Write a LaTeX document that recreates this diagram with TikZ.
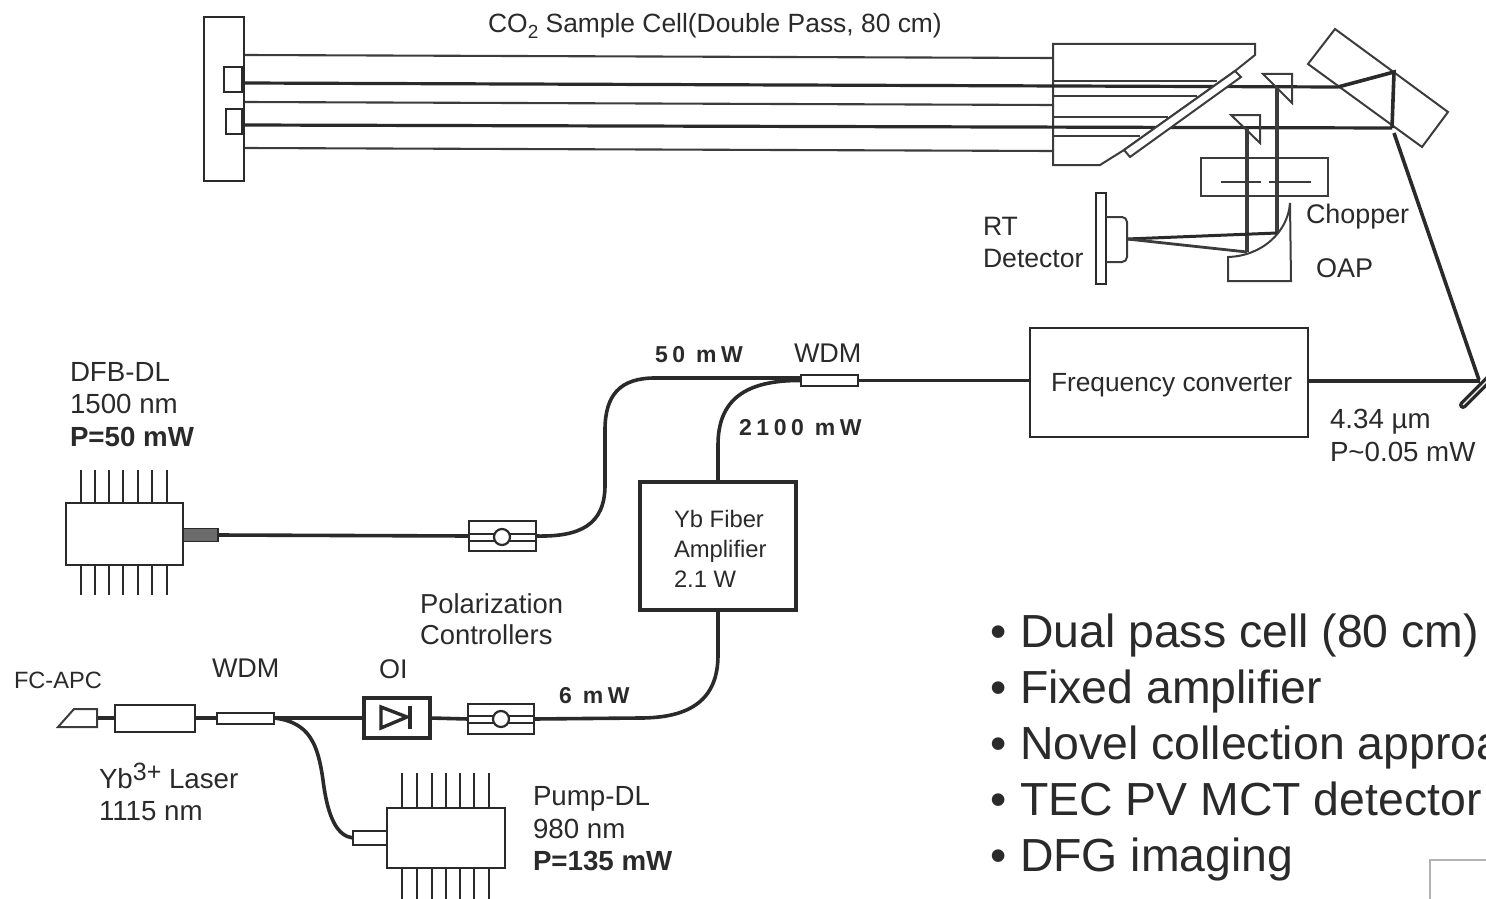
\documentclass[tikz,border=0pt]{standalone}
\usepackage{fontspec}
\setmainfont{Liberation Sans}
\newfontfamily\sbold[LetterSpace=20]{Liberation Sans}
\definecolor{ink}{HTML}{2A2A2A}
\definecolor{inkb}{HTML}{3C3C3C}
\newcommand{\fs}[2]{\fontsize{#1}{#2}\selectfont}
\tikzset{
  every node/.style={inner sep=0pt,outer sep=0pt,text=ink},
  box/.style={draw=ink,line width=2pt,fill=white,rectangle},
  thickbox/.style={draw=ink,line width=3.4pt,fill=white,rectangle},
  optic/.style={draw=inkb,line width=2pt,line join=miter},
  beam/.style={draw=inkb,line width=2.1pt},
  hbeam/.style={draw=ink,line width=3.6pt},
  fibre/.style={draw=ink,line width=3.6pt},
  pin/.style={draw=ink,line width=1.9pt},
  lab/.style={anchor=west,align=left,font=\fs{27.7}{32.5}},
  spaced/.style={anchor=west,font=\fs{23}{26}\sbold\bfseries},
  bullet/.style={anchor=base west,font=\fs{46.4}{50}}
}
\begin{document}
\begin{tikzpicture}[x=1pt,y=-1pt]
\useasboundingbox (0,0) rectangle (1486,899);

% --- sample cell ---
\node[box,minimum width=40pt,minimum height=164pt] (m1) at (224,99) {};
\node[box,minimum width=18pt,minimum height=25pt] (s1) at (233,79.5) {};
\node[box,minimum width=16pt,minimum height=25pt] (s2) at (234,121.5) {};
\coordinate (a1) at (245,55);  \coordinate (b1) at (1053,58);
\coordinate (a2) at (243,83);  \coordinate (b2) at (1338,87);
\coordinate (a3) at (245,102); \coordinate (b3) at (1053,105);
\coordinate (a4) at (243,125); \coordinate (b4) at (1392,128);
\coordinate (a5) at (245,148); \coordinate (b5) at (1053,151);
\draw[beam] (a1)--(b1) (a3)--(b3) (a5)--(b5);
\draw[optic,fill=white] (1053,44)--(1255,44)--(1255,55)--(1235,71)--(1124,150)--(1100,165)--(1053,165)--cycle;
\draw[beam] (1053,81)--(1217,81) (1053,96)--(1197,96) (1053,117)--(1168,117) (1053,136)--(1140,136);
\draw[hbeam,line width=3.2pt] (a2)--(b2) (a4)--(b4);
\draw[optic,fill=white] (1235,71)--(1241,77)--(1130,157)--(1124,150)--cycle;

% --- folding mirrors ---
\draw[optic] (1335,29)--(1448,112)--(1422,147)--(1308,64)--cycle;
\coordinate (f1) at (1394,72);
\draw[hbeam] (b2)--(f1)--(b4);
\coordinate (f2) at (1394,133);
\coordinate (f3) at (1479,380);
\draw[hbeam] (f2)--(f3);

% --- triangles, chopper ---
\draw[beam,line width=3.8pt] (1277,87)--(1277,233) (1247,128)--(1247,252);
\draw[optic] (1263,74)--(1292,74)--(1292,103)--cycle;
\draw[optic] (1231,115)--(1260,115)--(1260,143)--cycle;
\draw[optic] (1201,158) rectangle (1328,196);
\draw[beam] (1221,182)--(1261,182) (1269,182)--(1311,182);

% --- OAP, detector ---
\draw[optic] (1290,203)--(1291,281)--(1228,281)--(1228,257) .. controls (1262,256) and (1288,232) .. (1290,203);
\node[box,minimum width=10pt,minimum height=91pt] (det) at (1101,238.5) {};
\draw[optic,rounded corners=5pt] (det.east |- 0,217)--(1127,217)--(1127,262)--(det.east |- 0,262);
\coordinate (dc) at (1127,239);
\draw[hbeam,line width=3pt] (dc)--(1277,233);
\draw[beam,line width=2.8pt] (dc)--(1247,252);

% --- main fibre line ---
\node[box,minimum width=117pt,minimum height=62pt] (dfb) at (124.5,534) {};
\foreach \x in {81,95,109,123,138,152,167}{\draw[pin] (\x,470)--(\x,503);\draw[pin] (\x,565)--(\x,595);}
\node[draw=ink,line width=1.8pt,fill=gray!85!black,minimum width=35pt,minimum height=13pt,anchor=west] (dfbc) at (183,535) {};
\node[box,minimum width=67pt,minimum height=30pt] (pc1) at (502.5,536) {};
\node[box,minimum width=57pt,minimum height=11pt] (wdm1) at (829.5,380.5) {};
\node[box,minimum width=278pt,minimum height=109pt] (fc) at (1169,382.5) {};
\node[thickbox,minimum width=156pt,minimum height=128pt] (amp) at (718,546) {};
\node[box,minimum width=66pt,minimum height=30pt] (pc2) at (501,719) {};
\node[thickbox,minimum width=66pt,minimum height=40pt] (oi) at (397,718) {};
\node[box,minimum width=57pt,minimum height=11pt] (wdm2) at (245.5,718) {};
\node[box,minimum width=80pt,minimum height=27pt] (las) at (155,718) {};
\node[box,minimum width=118pt,minimum height=60pt] (pump) at (446,838) {};
\foreach \x in {402,417,432,446,460,474,489}{\draw[pin] (\x,773)--(\x,808);\draw[pin] (\x,868)--(\x,899);}
\node[box,minimum width=34pt,minimum height=14pt,anchor=east] (pumpc) at (pump.west |- 0,838) {};
\coordinate (fcr) at (97,718);

% fibres
\draw[fibre] (dfbc.east)--(pc1.west);
\draw[fibre] (pc1.east) .. controls (580,537) and (605,525) .. (605,485) -- (605,430) .. controls (605,395) and (620,378) .. (655,378) -- (wdm1.west |- 0,378);
\draw[fibre] (amp.north) -- (718,445) .. controls (718,400) and (745,380) .. (wdm1.west);
\draw[fibre] (wdm1.east)--(fc.west |- wdm1.east);
\draw[fibre] (fc.east |- 0,381)--(1480,381);
\draw[fibre] (amp.south) -- (718,655) .. controls (718,700) and (690,718) .. (640,718) -- (pc2.east);
\draw[fibre] (pc2.west)--(oi.east);
\draw[fibre] (oi.west)--(wdm2.east);
\draw[fibre] (wdm2.west)--(las.east);
\draw[fibre] (las.west)--(fcr);
\draw[fibre] (wdm2.east) .. controls (310,722) and (318,745) .. (323,780) .. controls (328,820) and (338,836) .. (pumpc.west);
\draw[optic,fill=white] (58,727)--(74,709)--(97,709)--(97,727)--cycle;

% polarization controllers
\foreach \n/\cx/\cy in {pc1/502/537,pc2/501/719}{
  \draw[line width=2pt,draw=ink] (\cx-33,\cy-3.5)--(\cx+33,\cy-3.5) (\cx-33,\cy+3.5)--(\cx+33,\cy+3.5);
  \node[draw=ink,line width=2.2pt,fill=white,circle,minimum size=16pt] (\n c) at (\cx,\cy) {};
}
% isolator glyph
\draw[draw=ink,line width=3.4pt,fill=white,line join=miter] (381,707)--(407,717)--(381,728)--cycle;
\draw[draw=ink,line width=3.4pt] (410,706)--(410,729);

% steering mirror
\draw[draw=ink,line width=8pt,line cap=round] (1463,405)--(1490,378);
\draw[draw=white,line width=1.2pt] (1463,405)--(1490,378);

% --- labels ---
\node[anchor=center,font=\fs{26.4}{30}] (tcell) at (715,26) {CO\raisebox{-6pt}{\fs{19}{20}2} Sample Cell(Double Pass, 80 cm)};
\node[lab,font=\fs{26.6}{32.5}] (trt) at (983,242.5) {RT\\Detector};
\node[lab,font=\fs{26.9}{32}] (tch) at (1306,217) {Chopper};
\node[lab,font=\fs{27}{32}] (toap) at (1316,268) {OAP};
\node[lab] (tdfb) at (70,404.5) {DFB-DL\\1500 nm\\\textbf{P=50 mW}};
\node[spaced] (t50) at (655,355) {50 mW};
\node[lab,font=\fs{27}{32}] (twdm1) at (794,353) {WDM};
\node[spaced] (t2100) at (739,428) {2100 mW};
\node[lab,font=\fs{26.3}{30}] (tfc) at (1051,385) {Frequency converter};
\node[lab] (t434) at (1330,435.5) {4.34 µm\\P\textasciitilde 0.05 mW};
\node[lab,font=\fs{23.8}{30}] (tamp) at (674,548.5) {Yb Fiber\\Amplifier\\2.1 W};
\node[lab,font=\fs{27.4}{31.5}] (tpol) at (420,619) {Polarization\\Controllers};
\node[lab,font=\fs{23.6}{28}] (tfcapc) at (14,680) {FC-APC};
\node[lab,font=\fs{27}{32}] (twdm2) at (212,668) {WDM};
\node[lab,font=\fs{27}{32}] (toi) at (379,669) {OI};
\node[spaced] (t6) at (559,696) {6 mW};
\node[lab] (tyb) at (99,792) {Yb\raisebox{8pt}{\fs{25}{26}3+} Laser\\1115 nm};
\node[lab] (tpump) at (533,829) {Pump-DL\\980 nm\\\textbf{P=135 mW}};

% bullets
\foreach \n/\y/\t in {b1/647/Dual pass cell (80 cm),b2/703/Fixed amplifier,b3/759/Novel collection approa,b4/815/TEC PV MCT detector,b5/871/DFG imaging}{
  \node[bullet] (\n x) at (990,\y) {•};
  \node[bullet] (\n) at (1020,\y) {\t};
}
% corner box
\draw[draw=gray!60,line width=1.5pt] (1430,899)--(1430,860)--(1486,860);
\end{tikzpicture}
\end{document}
